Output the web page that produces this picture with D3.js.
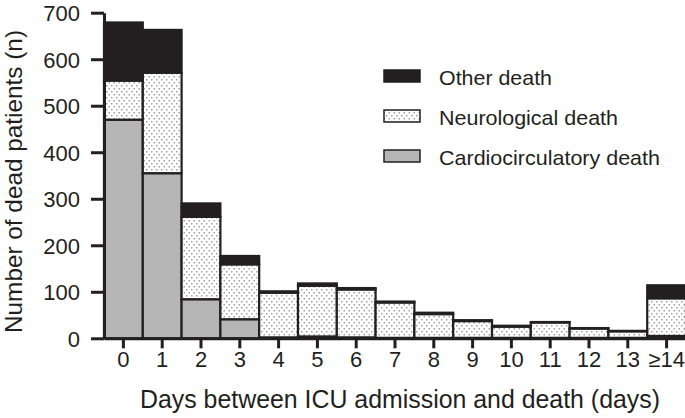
<!DOCTYPE html>
<html>
<head>
<meta charset="utf-8">
<script src="https://cdn.jsdelivr.net/npm/d3@7"></script>
<style>
  html, body { margin: 0; padding: 0; background: #fff; }
  svg { display: block; font-family: "Liberation Sans", Arial, Helvetica, sans-serif; }
</style>
</head>
<body>
<svg id="chart" width="685" height="418"></svg>
<script>
// ---- data ----
const days = ["0","1","2","3","4","5","6","7","8","9","10","11","12","13","≥14"];
const cardio = [470, 355, 84, 41, 2, 4, 2, 1, 1, 1, 1, 1, 1, 1, 5];
const neuro  = [84, 216, 177, 118, 96, 109, 103, 76, 51, 36, 24, 33, 20, 14, 81];
const other  = [125, 92, 29, 18, 3, 5, 3, 2, 3, 2, 2, 1, 1, 1, 28];
const yTicks = [0, 100, 200, 300, 400, 500, 600, 700];
const seriesKeys = ["cardio", "neuro", "other"];
const legendLabels = ["Other death", "Neurological death", "Cardiocirculatory death"];
const xTitle = "Days between ICU admission and death (days)";
const yTitle = "Number of dead patients (n)";

// ---- setup ----
const ink = "#231f20";
const svg = d3.select("#chart");
const defs = svg.append("defs");
const pat = defs.append("pattern").attr("id", "dots")
  .attr("patternUnits", "userSpaceOnUse").attr("width", 5).attr("height", 6);
pat.append("rect").attr("width", 5).attr("height", 6).attr("fill", "#fff");
pat.append("rect").attr("x", 1).attr("y", 1).attr("width", 1.5).attr("height", 1.5).attr("fill", "#a0a0a0");
pat.append("rect").attr("x", 3.5).attr("y", 4).attr("width", 1.5).attr("height", 1.5).attr("fill", "#a0a0a0");

const fills = { cardio: "#b5b5b5", neuro: "url(#dots)", other: ink };

const rows = days.map((d, i) => ({ day: d, cardio: cardio[i], neuro: neuro[i], other: other[i] }));
const stacked = d3.stack().keys(seriesKeys)(rows);

const x = d3.scaleBand().domain(days).range([104, 686]).padding(0);
const y = d3.scaleLinear().domain([0, 700]).range([338.3, 12.7]);

// ---- bars ----
svg.append("g").selectAll("g").data(stacked).join("g")
  .attr("fill", s => fills[s.key])
  .selectAll("rect").data(s => s).join("rect")
  .attr("x", d => x(d.data.day))
  .attr("width", x.bandwidth())
  .attr("y", d => y(d[1]))
  .attr("height", d => Math.max(0, y(d[0]) - y(d[1])))
  .attr("stroke", ink).attr("stroke-width", 2.2);

// ---- axes ----
const yAxis = svg.append("g").attr("transform", "translate(104,0)")
  .call(d3.axisLeft(y).tickValues(yTicks).tickSize(13).tickSizeOuter(0).tickPadding(11));
const xAxis = svg.append("g").attr("transform", `translate(0,${y(0)})`)
  .call(d3.axisBottom(x).tickSize(10).tickSizeOuter(0).tickPadding(3));

[yAxis, xAxis].forEach(g => {
  g.select(".domain").attr("stroke", ink).attr("stroke-width", 3);
  g.selectAll(".tick line").attr("stroke", ink).attr("stroke-width", 3);
  g.selectAll(".tick text").attr("fill", ink).style("font-size", "22px")
    .style("font-family", '"Liberation Sans", Arial, sans-serif');
});
yAxis.selectAll(".tick text").attr("dy", "0.36em");

// ---- axis titles ----
svg.append("text")
  .attr("x", 400).attr("y", 408)
  .attr("text-anchor", "middle")
  .attr("fill", ink).style("font-size", "25px")
  .attr("textLength", 520).attr("lengthAdjust", "spacingAndGlyphs")
  .text(xTitle);

svg.append("text")
  .attr("transform", "translate(22,181.5) rotate(-90)")
  .attr("text-anchor", "middle")
  .attr("fill", ink).style("font-size", "24px")
  .attr("textLength", 303).attr("lengthAdjust", "spacingAndGlyphs")
  .text(yTitle);

// ---- legend ----
const legendKeys = ["other", "neuro", "cardio"];
const legendY = [70, 110, 150];
const legendW = [113, 179, 221];
const legend = svg.append("g");
legendKeys.forEach((k, i) => {
  legend.append("rect")
    .attr("x", 384).attr("y", legendY[i])
    .attr("width", 36).attr("height", 12)
    .attr("fill", fills[k]).attr("stroke", ink).attr("stroke-width", 1.5);
  legend.append("text")
    .attr("x", 439).attr("y", legendY[i] + 15)
    .attr("fill", ink).style("font-size", "21px")
    .attr("textLength", legendW[i]).attr("lengthAdjust", "spacingAndGlyphs")
    .text(legendLabels[i]);
});
</script>
</body>
</html>
